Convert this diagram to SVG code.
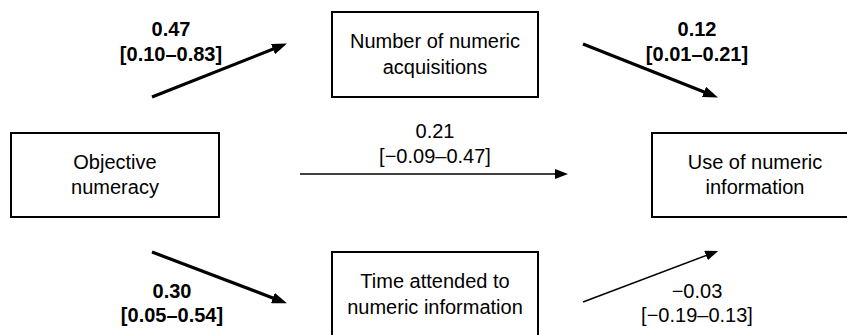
<svg xmlns="http://www.w3.org/2000/svg" width="847" height="335" viewBox="0 0 847 335">
  <style>
    .box { fill: #fff; stroke: #000; stroke-width: 2; }
    .lbl { font-family: "Liberation Sans", Arial, sans-serif; font-size: 20px; fill: #000; text-anchor: middle; }
    .b { font-weight: bold; }
    .thick { stroke: #000; stroke-width: 3.2; fill: none; marker-end: url(#headThick); }
    .thin { stroke: #000; stroke-width: 1.5; fill: none; marker-end: url(#headThin); }
  </style>
  <defs>
    <marker id="headThick" markerUnits="userSpaceOnUse" markerWidth="15" markerHeight="11" refX="9" refY="5.5" orient="auto">
      <path d="M0,0 L15,5.5 L0,11 z" fill="#000"/>
    </marker>
    <marker id="headThin" markerUnits="userSpaceOnUse" markerWidth="13" markerHeight="10" refX="8" refY="5" orient="auto">
      <path d="M0,0 L13,5 L0,10 z" fill="#000"/>
    </marker>
  </defs>
  <rect width="847" height="335" fill="#fff"/>

  <g id="objective-numeracy">
    <rect class="box" x="11" y="133" width="208" height="84"/>
    <text class="lbl" x="115" y="169">Objective</text>
    <text class="lbl" x="115" y="194">numeracy</text>
  </g>

  <g id="numeric-acquisitions">
    <rect class="box" x="332" y="12" width="206" height="85"/>
    <text class="lbl" x="435" y="48">Number of numeric</text>
    <text class="lbl" x="435" y="74">acquisitions</text>
  </g>

  <g id="time-attended">
    <rect class="box" x="332" y="252" width="206" height="86"/>
    <text class="lbl" x="435" y="288">Time attended to</text>
    <text class="lbl" x="435" y="314">numeric information</text>
  </g>

  <g id="use-of-information">
    <rect class="box" x="652" y="133" width="208" height="84"/>
    <text class="lbl" x="755" y="169">Use of numeric</text>
    <text class="lbl" x="755" y="194">information</text>
  </g>

  <g id="connectors">
    <line class="thick" x1="152" y1="97" x2="281.4" y2="45.8"/>
    <line class="thick" x1="583" y1="44" x2="712.4" y2="95.2"/>
    <line class="thin" x1="300" y1="174" x2="563" y2="174"/>
    <line class="thick" x1="152" y1="252" x2="281.3" y2="301.2"/>
    <line class="thin" x1="583" y1="302" x2="713.5" y2="252.7"/>

    <text class="lbl b" x="171" y="36">0.47</text>
    <text class="lbl b" x="171" y="61">[0.10–0.83]</text>

    <text class="lbl b" x="697" y="36">0.12</text>
    <text class="lbl b" x="697" y="61">[0.01–0.21]</text>

    <text class="lbl" x="435" y="138">0.21</text>
    <text class="lbl" x="435" y="163">[−0.09–0.47]</text>

    <text class="lbl b" x="172" y="298">0.30</text>
    <text class="lbl b" x="172" y="322">[0.05–0.54]</text>

    <text class="lbl" x="697" y="298">−0.03</text>
    <text class="lbl" x="697" y="322">[−0.19–0.13]</text>
  </g>
</svg>
